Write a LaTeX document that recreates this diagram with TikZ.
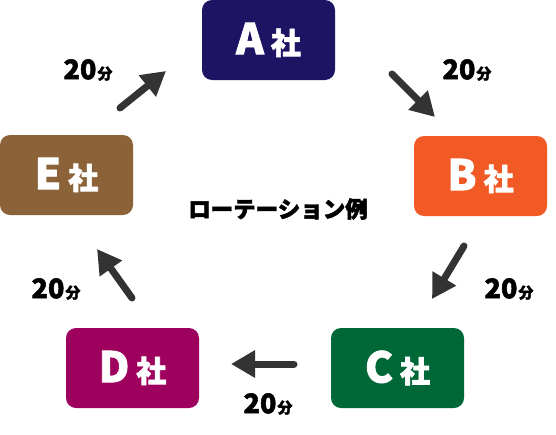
\documentclass[tikz,border=0pt]{standalone}
\usepackage{fontspec}
\newfontfamily\cjk{Noto Sans CJK JP}[BoldFeatures={FakeBold=2}]
\usetikzlibrary{arrows.meta}
\definecolor{cA}{HTML}{1E1464}
\definecolor{cB}{HTML}{F15A24}
\definecolor{cC}{HTML}{006837}
\definecolor{cD}{HTML}{9E005D}
\definecolor{cE}{HTML}{8C6239}
\definecolor{arr}{HTML}{333333}
\tikzset{
  company/.style={rounded corners=10pt, minimum width=133pt, minimum height=80pt, inner sep=0pt, text=white, font=\cjk\bfseries},
  flow/.style={draw=arr, line width=7pt, line cap=round, -{Triangle[width=26pt,length=24pt]}},
  dur/.style={font=\cjk\bfseries, inner sep=0pt}
}
\newcommand{\co}[1]{{\fontsize{42}{42}\selectfont #1}\hspace{7pt}{\fontsize{30}{30}\selectfont 社}}
\newcommand{\mins}{{\fontsize{27}{27}\selectfont 20}\hspace{1pt}{\fontsize{15}{15}\selectfont 分}}
\begin{document}
\begin{tikzpicture}[x=1pt,y=-1pt]
\useasboundingbox (0,0) rectangle (556,434);
\node[company, fill=cA] (a) at (268.5,40) {\co{A}};
\node[company, fill=cB] (b) at (480.5,176) {\co{B}};
\node[company, fill=cC] (c) at (397.5,368) {\co{C}};
\node[company, fill=cD] (d) at (132.5,368) {\co{D}};
\node[company, fill=cE] (e) at (66.5,175) {\co{E}};
\node[font=\cjk\bfseries\fontsize{22.5}{22.5}\selectfont, inner sep=0pt] (title) at (278,209) {ローテーション例};
\coordinate (ab1) at (392,74); \coordinate (ab2) at (435,117);
\coordinate (bc1) at (464,246); \coordinate (bc2) at (432,299);
\coordinate (cd1) at (294,364); \coordinate (cd2) at (231,364);
\coordinate (de1) at (132,298); \coordinate (de2) at (97,249);
\coordinate (ea1) at (120,108); \coordinate (ea2) at (166,71);
\draw[flow] (ab1) -- (ab2);
\draw[flow] (bc1) -- (bc2);
\draw[flow] (cd1) -- (cd2);
\draw[flow] (de1) -- (de2);
\draw[flow] (ea1) -- (ea2);
\node[dur] (t1) at (88,70) {\mins};
\node[dur] (t2) at (467,70) {\mins};
\node[dur] (t3) at (509,289) {\mins};
\node[dur] (t4) at (56,289) {\mins};
\node[dur] (t5) at (268,404) {\mins};
\end{tikzpicture}
\end{document}
